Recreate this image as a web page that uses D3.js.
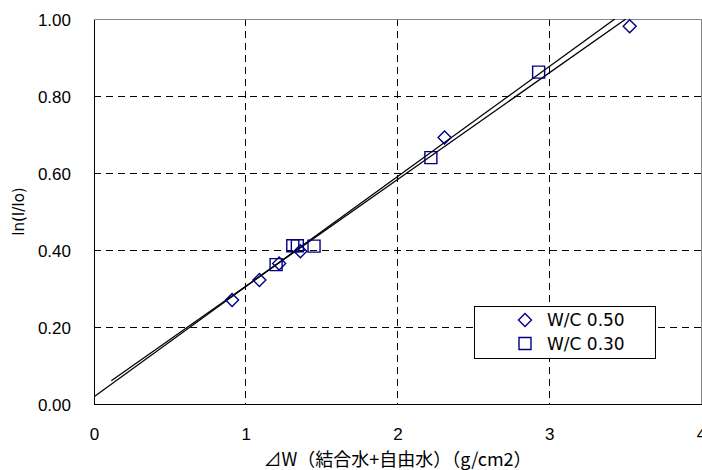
<!DOCTYPE html>
<html>
<head>
<meta charset="utf-8">
<script src="https://cdn.jsdelivr.net/npm/d3@7/dist/d3.min.js"></script>
<style>
  body { margin: 0; background: #fff; }
  svg { display: block; }
</style>
</head>
<body>
<div id="chart"></div>
<script>
// Data
const series1Name = 'W/C 0.50';
const series1X = [0.91, 1.09, 1.22, 1.36, 2.31, 3.53];
const series1Y = [0.270, 0.322, 0.365, 0.397, 0.692, 0.981];

const series2Name = 'W/C 0.30';
const series2X = [1.20, 1.31, 1.34, 1.45, 2.22, 2.93];
const series2Y = [0.362, 0.411, 0.411, 0.410, 0.640, 0.862];

// trend lines, end points
const trend1 = [[0, 0.019], [3.432, 1.0]];
const trend2 = [[0.114, 0.0605], [3.505, 1.0]];

const xTicks = [0, 1, 2, 3, 4];
const yTicks = [0, 0.2, 0.4, 0.6, 0.8, 1.0];

const xTitle = '⊿W（結合水+自由水）（g/cm2）';
const yTitle = 'ln(I/Io)';

//Chart dimensions
const width = 702, height = 470;
const plot = { left: 94, right: 701, top: 19, bottom: 404 };
const navy = '#000080';

//Scales
const xScale = d3.scaleLinear().domain([0, 4]).range([plot.left, plot.right]);
const yScale = d3.scaleLinear().domain([0, 1]).range([plot.bottom, plot.top]);

const svg = d3.select('#chart').append('svg')
  .attr('width', width)
  .attr('height', height);

svg.append('defs').append('clipPath')
  .attr('id', 'clip')
  .append('rect')
  .attr('x', plot.left)
  .attr('y', plot.top)
  .attr('width', plot.right - plot.left)
  .attr('height', plot.bottom - plot.top);

//Gridlines
svg.append('g')
  .selectAll('line')
  .data(yTicks.filter(d => d > 0 && d < 1))
  .join('line')
  .attr('x1', plot.left).attr('x2', plot.right)
  .attr('y1', d => yScale(d)).attr('y2', d => yScale(d))
  .attr('stroke', '#000')
  .attr('stroke-dasharray', '7,5')
  .attr('shape-rendering', 'crispEdges');

svg.append('g')
  .selectAll('line')
  .data(xTicks.filter(d => d > 0 && d < 4))
  .join('line')
  .attr('x1', d => xScale(d)).attr('x2', d => xScale(d))
  .attr('y1', plot.top).attr('y2', plot.bottom)
  .attr('stroke', '#000')
  .attr('stroke-dasharray', '7,5')
  .attr('shape-rendering', 'crispEdges');

//Plot border (top and right grey)
svg.append('path')
  .attr('d', `M${plot.left},${plot.top}H${plot.right}V${plot.bottom}`)
  .attr('fill', 'none')
  .attr('stroke', '#888')
  .attr('shape-rendering', 'crispEdges');

//Axes
const xAxis = d3.axisBottom(xScale).tickValues(xTicks).tickSize(0).tickPadding(0)
  .tickFormat(d3.format('d'));
const yAxis = d3.axisLeft(yScale).tickValues(yTicks).tickSize(0).tickPadding(0)
  .tickFormat(d3.format('.2f'));

const xAxisGroup = svg.append('g')
  .attr('transform', `translate(0, ${plot.bottom})`)
  .call(xAxis);
xAxisGroup.select('.domain').attr('stroke', '#000').attr('shape-rendering', 'crispEdges');
xAxisGroup.selectAll('text')
  .attr('dy', null)
  .attr('y', 36)
  .attr('fill', '#000')
  .style('font-family', '"Liberation Sans", Arial, sans-serif')
  .style('font-size', '17px');

const yAxisGroup = svg.append('g')
  .attr('transform', `translate(${plot.left}, 0)`)
  .call(yAxis);
yAxisGroup.select('.domain').attr('stroke', '#000').attr('shape-rendering', 'crispEdges');
yAxisGroup.selectAll('text')
  .attr('dy', null)
  .attr('y', 6)
  .attr('x', -23)
  .attr('fill', '#000')
  .style('font-family', '"Liberation Sans", Arial, sans-serif')
  .style('font-size', '17px');

//Trend lines
const line = d3.line()
  .x(d => xScale(d[0]))
  .y(d => yScale(d[1]));

[trend1, trend2].forEach(t => {
  svg.append('path')
    .attr('d', line(t))
    .attr('clip-path', 'url(#clip)')
    .attr('fill', 'none')
    .attr('stroke', '#000')
    .attr('stroke-width', 1.3);
});

//Markers
const diamond = s => `M0,${-s}L${s},0L0,${s}L${-s},0Z`;
const square = s => `M${-s},${-s}H${s}V${s}H${-s}Z`;

svg.append('g')
  .selectAll('path')
  .data(series2X.map((x, i) => [x, series2Y[i]]))
  .join('path')
  .attr('d', square(6))
  .attr('transform', d => `translate(${xScale(d[0])}, ${yScale(d[1])})`)
  .attr('fill', 'none')
  .attr('stroke', navy)
  .attr('stroke-width', 1.4);

svg.append('g')
  .selectAll('path')
  .data(series1X.map((x, i) => [x, series1Y[i]]))
  .join('path')
  .attr('d', diamond(6.5))
  .attr('transform', d => `translate(${xScale(d[0])}, ${yScale(d[1])})`)
  .attr('fill', 'none')
  .attr('stroke', navy)
  .attr('stroke-width', 1.4);

//Axis titles
svg.append('text')
  .attr('x', (plot.left + plot.right) / 2)
  .attr('y', 466)
  .attr('text-anchor', 'middle')
  .style('font-family', '"Noto Sans CJK JP", sans-serif')
  .style('font-size', '18px')
  .text(xTitle);

svg.append('text')
  .attr('transform', `translate(24, ${(plot.top + plot.bottom) / 2}) rotate(-90)`)
  .attr('text-anchor', 'middle')
  .style('font-family', '"DejaVu Sans", sans-serif')
  .style('font-size', '15px')
  .text(yTitle);

//Legend
const legend = svg.append('g').attr('class', 'legend');
legend.append('rect')
  .attr('x', 474.5).attr('y', 306.5)
  .attr('width', 181).attr('height', 52)
  .attr('fill', '#fff')
  .attr('stroke', '#000');

[[series1Name, diamond(6.5)], [series2Name, square(6)]].forEach((d, i) => {
  const cy = 320 + i * 23.5;
  legend.append('path')
    .attr('d', d[1])
    .attr('transform', `translate(525, ${cy})`)
    .attr('fill', 'none')
    .attr('stroke', navy)
    .attr('stroke-width', 1.4);
  legend.append('text')
    .attr('x', 547)
    .attr('y', cy + 6)
    .style('font-family', '"DejaVu Sans", sans-serif')
    .style('font-size', '17px')
    .text(d[0]);
});
</script>
</body>
</html>
